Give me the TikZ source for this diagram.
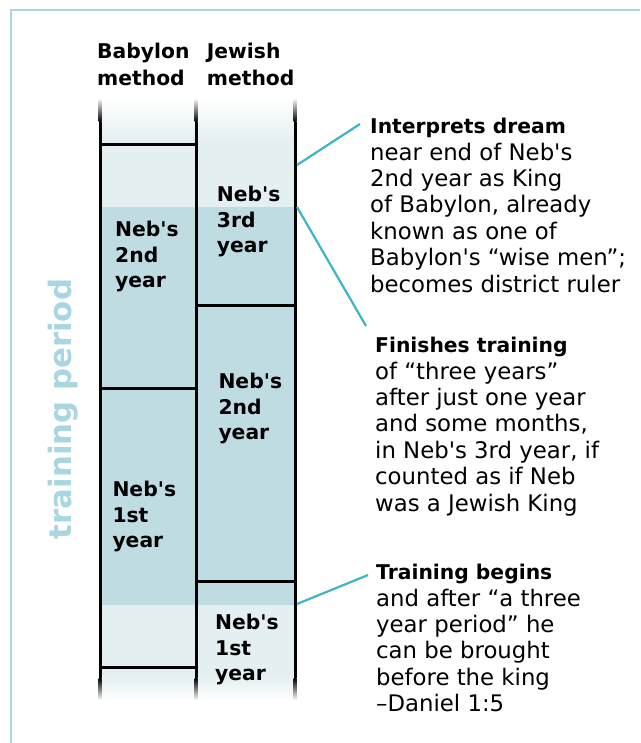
\documentclass[tikz,border=0pt]{standalone}
\usepackage{fontspec}
\newfontfamily\gfont{DejaVu Sans}
\usetikzlibrary{positioning, calc}
\definecolor{yrlight}{HTML}{E4EFF1}
\definecolor{yrdark}{HTML}{BFDCE3}
\definecolor{callteal}{HTML}{3DB5C6}
\definecolor{periodblue}{HTML}{A9D6E0}
\definecolor{framecol}{HTML}{A9D7DE}
\newcommand{\calltitle}[1]{{\fontsize{20.3}{26.4}\selectfont\bfseries #1}}
\tikzstyle{colhead} = [anchor=north west, inner sep=0pt, align=left, font=\gfont\bfseries\fontsize{20.3}{26.7}\selectfont]
\tikzstyle{yeartext} = [anchor=north west, inner sep=0pt, align=left, font=\gfont\bfseries\fontsize{20.3}{25.5}\selectfont]
\tikzstyle{callout} = [anchor=north west, inner sep=0pt, align=left, font=\gfont\fontsize{22.8}{26.4}\selectfont]
\tikzstyle{callline} = [callteal, line width=2.2pt]
\tikzstyle{divider} = [line width=3pt]
\begin{document}
\begin{tikzpicture}[x=1pt, y=-1pt, node distance=17pt]
\useasboundingbox (0,0) rectangle (640,743);
% frame
\draw[framecol, line width=2pt] (11,743) -- (11,10) -- (640,10);
% column background
\shade[top color=white, bottom color=yrlight] (99,98) rectangle (296,140);
\fill[yrlight] (99,140) rectangle (296,676);
\shade[top color=yrlight, bottom color=white] (99,676) rectangle (296,702);
\fill[yrdark] (99,207) rectangle (296,605);
% column lines
\foreach \cx in {100,196,295} {
  \shade[top color=white, bottom color=black] (\cx-1.5,98) rectangle (\cx+1.5,122);
  \draw[divider] (\cx,122) -- (\cx,678);
  \shade[top color=black, bottom color=white] (\cx-1.5,678) rectangle (\cx+1.5,700);
}
\foreach \hy in {145,388,667} \draw[divider] (100,\hy) -- (196,\hy);
\foreach \hy in {305,581} \draw[divider] (196,\hy) -- (295,\hy);
% headers
\node (bh) [colhead] at (97,43) {Babylon\\method};
\node (jh) [colhead, right=17pt of bh] {Jewish\\method};
% years
\node (b2) [yeartext] at (115,221.3) {Neb's\\2nd\\year};
\node (b1) [yeartext] at (112.3,481.3) {Neb's\\1st\\year};
\node (j3) [yeartext] at (216.7,186.3) {Neb's\\3rd\\year};
\node (j2) [yeartext] at (218.3,373) {Neb's\\2nd\\year};
\node (j1) [yeartext] at (215,614) {Neb's\\1st\\year};
\node (tp) [rotate=90, inner sep=0pt, text=periodblue, font=\gfont\bfseries\fontsize{30.8}{36}\selectfont] at (63,409) {training period};
% callouts
\node (c1) [callout] at (370,118) {\calltitle{Interprets dream}\\near end of Neb's\\2nd year as King\\of Babylon, already\\known as one of\\Babylon's “wise men”;\\becomes district ruler};
\node (c2) [callout] at (375,337) {\calltitle{Finishes training}\\of “three years”\\after just one year\\and some months,\\in Neb's 3rd year, if\\counted as if Neb\\was a Jewish King};
\node (c3) [callout] at (376,564) {\calltitle{Training begins}\\and after “a three\\year period” he\\can be brought\\before the king\\–Daniel 1:5};
\coordinate (e1) at (297,165);
\coordinate (e2) at (297,207);
\coordinate (e3) at (297,604);
\draw[callline] (e1) -- ($(c1.north west)+(-10,6)$);
\draw[callline] (e2) -- ($(c2.north west)+(-9,-11)$);
\draw[callline] (e3) -- ($(c3.north west)+(-8,11)$);
\end{tikzpicture}
\end{document}
